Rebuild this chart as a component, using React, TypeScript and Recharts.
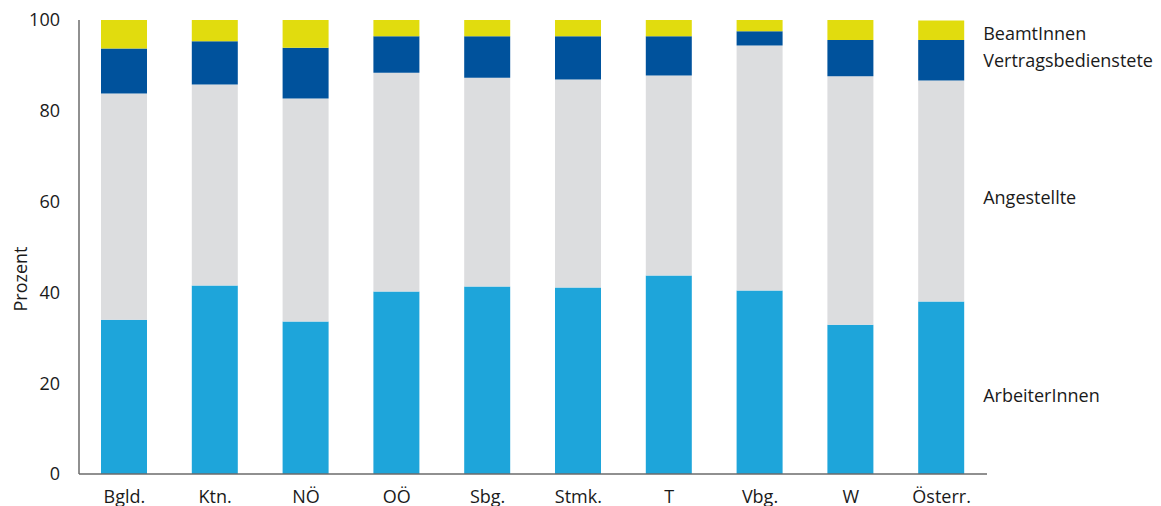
import { BarChart, Bar, XAxis, YAxis, LabelList } from "recharts";

const regions = ["Bgld.", "Ktn.", "NÖ", "OÖ", "Sbg.", "Stmk.", "T", "Vbg.", "W", "Österr."];

// shares in percent
const arbeiter = [34.0, 41.5, 33.6, 40.2, 41.3, 41.1, 43.7, 40.4, 32.9, 38.0];
const angestellte = [49.8, 44.3, 49.1, 48.2, 46.0, 45.8, 44.1, 54.0, 54.7, 48.7];
const vertragsbedienstete = [9.9, 9.5, 11.2, 8.0, 9.1, 9.5, 8.6, 3.1, 8.0, 8.9];
const beamte = [6.3, 4.7, 6.1, 3.6, 3.6, 3.6, 3.6, 2.5, 4.4, 4.3];

const yTicks = [0, 20, 40, 60, 80, 100];

const data = regions.map((name, i) => ({
  name,
  arbeiter: arbeiter[i],
  angestellte: angestellte[i],
  vertrag: vertragsbedienstete[i],
  beamte: beamte[i],
}));

const FONT = "'Open Sans', 'Noto Sans', sans-serif";
const TEXT = "#1a1a1a";
const FS = 18;

// name label at the right of the last bar only
const sideLabel = (text: string, dy: number) => (props: any) => {
  const { x, y, width, height, index } = props;
  if (index !== regions.length - 1) return null;
  return (
    <text
      x={Number(x) + Number(width) + 19}
      y={Number(y) + Number(height) / 2 + dy}
      dominantBaseline="central"
      fontSize={FS}
      fontFamily={FONT}
      fill={TEXT}
    >
      {text}
    </text>
  );
};

const series = [
  { key: "arbeiter", name: "ArbeiterInnen", color: "#1ea5da", dy: 7 },
  { key: "angestellte", name: "Angestellte", color: "#dcdddf", dy: 6 },
  { key: "vertrag", name: "Vertragsbedienstete", color: "#00529c", dy: 0 },
  { key: "beamte", name: "BeamtInnen", color: "#e1dc0e", dy: 3 },
];

export default function App() {
  return (
    <div style={{ position: "absolute", left: 0, top: 0, background: "#fff" }}>
      <BarChart
        width={1161}
        height={506}
        data={data}
        margin={{ top: 20, right: 174, left: 0, bottom: 0 }}
        barSize={46}
      >
        <XAxis
          dataKey="name"
          height={32}
          axisLine={{ stroke: "#6b6b6b", strokeWidth: 1.5 }}
          tickLine={false}
          tickSize={0}
          tickMargin={16}
          tick={{ fill: TEXT, fontSize: FS, fontFamily: FONT }}
        />
        <YAxis
          width={79}
          domain={[0, 100]}
          ticks={yTicks}
          allowDataOverflow
          axisLine={{ stroke: "#6b6b6b", strokeWidth: 1.5 }}
          tickLine={false}
          tickSize={0}
          tickMargin={19}
          tick={{ fill: TEXT, fontSize: FS, fontFamily: FONT }}
          label={{
            content: () => (
              <text
                x={20}
                y={279}
                transform="rotate(-90 20 279)"
                textAnchor="middle"
                dominantBaseline="central"
                fontSize={FS}
                fontFamily={FONT}
                fill={TEXT}
              >
                Prozent
              </text>
            ),
          }}
        />
        {series.map((s) => (
          <Bar
            key={s.key}
            dataKey={s.key}
            name={s.name}
            stackId="a"
            fill={s.color}
            isAnimationActive={false}
          >
            <LabelList dataKey={s.key} content={sideLabel(s.name, s.dy)} />
          </Bar>
        ))}
      </BarChart>
    </div>
  );
}
